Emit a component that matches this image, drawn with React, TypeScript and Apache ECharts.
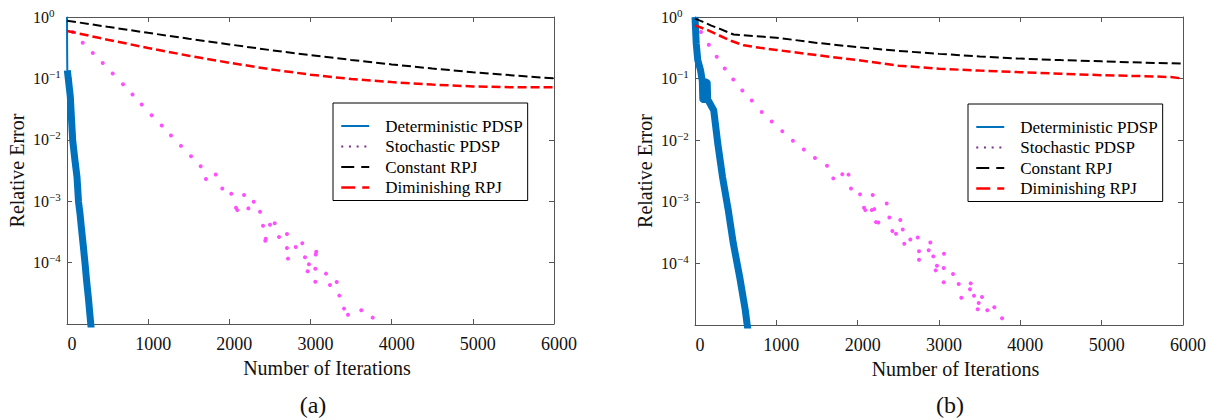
import React, { useEffect, useRef } from 'react';
import * as echarts from 'echarts';

const FONT = 'Liberation Serif';
const AXIS_COLOR = '#555555';
const TEXT_COLOR = '#111111';
const BLUE = '#0072bd';
const MAGENTA = '#ff4dff';
const PURPLE = '#7e2f8e';
const BLACK = '#000000';
const RED = '#ff0000';

// tick labels
const xTickInterval = 1000;
const xMax = 6000;
const yTickExponents = [0, -1, -2, -3, -4];
const yMin = 1e-5;
const yMax = 1;

const seriesNames = ['Deterministic PDSP', 'Stochastic PDSP', 'Constant RPJ', 'Diminishing RPJ'];
const panelLabels = ['(a)', '(b)'];

// ---------- panel (a) ----------
// first iterations (steep initial drop, drawn thin along the axis)
const detAHead: [number, number][] = [[0, 1], [1, 0.5], [2, 0.25], [4, 0.135]];
const detA: [number, number][] = [
  [4, 0.135], [20, 0.089], [41, 0.0499], [55, 0.0224], [70, 0.00984],
  [95, 0.005], [123, 0.00249], [142, 0.000977], [160, 0.00063], [176, 0.000384],
  [200, 0.00019], [222, 0.0000975], [242, 0.00005], [262, 0.0000279], [292, 0.0000103],
  [315, 0.000005],
];

const stoA: [number, number][] = [
  [70, 0.568], [193, 0.382], [317, 0.259], [440, 0.178], [563, 0.12], [690, 0.0802],
  [807, 0.0546], [920, 0.0375], [1043, 0.0251], [1167, 0.0171], [1281, 0.01175],
  [1404, 0.00796], [1528, 0.00541], [1647, 0.00372], [1712, 0.00229], [1832, 0.00273],
  [1913, 0.00161], [2024, 0.00132], [2082, 0.000782], [2098, 0.000716], [2181, 0.00126],
  [2234, 0.000764], [2300, 0.000977], [2378, 0.000673], [2415, 0.000398], [2443, 0.000227],
  [2448, 0.000245], [2501, 0.000413], [2559, 0.000436], [2612, 0.000261], [2710, 0.000292],
  [2710, 0.000173], [2723, 0.000116], [2818, 0.000179], [2899, 0.000206], [2932, 0.000122],
  [2965, 0.0000723], [2981, 0.0000938], [3059, 0.0000796], [3059, 0.0000489], [3064, 0.000136],
  [3071, 0.00015], [3191, 0.0000661], [3240, 0.0000433], [3323, 0.0000484], [3355, 0.000029],
  [3413, 0.0000178], [3462, 0.0000142], [3626, 0.0000167], [3766, 0.0000127],
];

const conA: [number, number][] = [
  [0, 0.871], [500, 0.692], [1000, 0.552], [1500, 0.443], [2000, 0.357], [2500, 0.29],
  [3000, 0.239], [3500, 0.2], [4000, 0.169], [4500, 0.145], [5000, 0.126], [5500, 0.112],
  [6000, 0.1],
];

const dimA: [number, number][] = [
  [0, 0.593], [500, 0.427], [1000, 0.313], [1500, 0.234], [2000, 0.18], [2500, 0.141],
  [3000, 0.115], [3500, 0.0977], [4000, 0.0871], [4500, 0.0794], [5000, 0.0741],
  [5500, 0.0716], [6000, 0.0716],
];

// ---------- panel (b) ----------
const detBHead: [number, number][] = [];
const detB: [number, number][] = [
  [0, 1], [15, 0.372], [34, 0.2], [68, 0.137], [90, 0.0912],
  [96, 0.0468], [102, 0.0891], [108, 0.0457], [114, 0.0871], [120, 0.0468], [126, 0.0891],
  [132, 0.0457], [138, 0.0871], [144, 0.0468], [150, 0.0851], [156, 0.0457],
  [165, 0.0437], [230, 0.0307], [280, 0.00885],
  [338, 0.00254], [409, 0.000733], [471, 0.000211], [550, 0.0000596], [618, 0.0000175],
  [639, 0.0000107], [665, 0.000006],
];

const stoB: [number, number][] = [
  [74, 0.571], [170, 0.353], [267, 0.226], [366, 0.146], [470, 0.0966], [582, 0.0643],
  [698, 0.044], [820, 0.0288], [943, 0.0201], [1073, 0.014], [1204, 0.00982], [1338, 0.00708],
  [1475, 0.00516], [1623, 0.00384], [1700, 0.0024], [1811, 0.00279], [1887, 0.00276],
  [1918, 0.00164], [2029, 0.00132], [2078, 0.000798], [2094, 0.000733], [2173, 0.000733],
  [2185, 0.00129], [2204, 0.00076], [2225, 0.000468], [2254, 0.000462], [2357, 0.000942],
  [2389, 0.000558], [2426, 0.000335], [2471, 0.000303], [2524, 0.000505], [2554, 0.000356],
  [2573, 0.000208], [2647, 0.000245], [2738, 0.000264], [2754, 0.000158], [2754, 0.000115],
  [2873, 0.000164], [2893, 0.000219], [2930, 0.00013], [2959, 0.0000771], [2975, 0.0000916],
  [3058, 0.0000839], [3058, 0.0000493], [3061, 0.000143], [3172, 0.0000671], [3242, 0.0000462],
  [3274, 0.0000277], [3381, 0.0000379], [3390, 0.0000474], [3430, 0.0000299], [3476, 0.000018],
  [3488, 0.0000228], [3529, 0.0000284], [3594, 0.0000173], [3680, 0.0000194], [3775, 0.0000129],
];

const conB: [number, number][] = [
  [0, 0.94], [100, 0.832], [200, 0.724], [300, 0.646], [400, 0.569], [475, 0.519],
  [1000, 0.462], [1500, 0.38], [2000, 0.324], [2500, 0.282], [3000, 0.252], [3500, 0.229],
  [4000, 0.211], [4500, 0.1995], [5000, 0.1905], [5500, 0.182], [6000, 0.175],
];

const dimB: [number, number][] = [
  [0, 0.733], [150, 0.617], [300, 0.501], [450, 0.407], [600, 0.347], [800, 0.316],
  [1000, 0.292], [1500, 0.24], [2000, 0.1995], [2500, 0.162], [3000, 0.1445], [3500, 0.135],
  [4000, 0.127], [4500, 0.12], [5000, 0.1135], [5500, 0.1096], [5850, 0.106], [6000, 0.1],
];

const panels = [
  { head: detAHead, det: detA, sto: stoA, con: conA, dim: dimA },
  { head: detBHead, det: detB, sto: stoB, con: conB, dim: dimB },
];

const grids = [
  { left: 67, top: 17, width: 487, height: 307 },
  { left: 695, top: 17, width: 488, height: 308 },
];
const legendPos = [
  { left: 333, top: 103 },
  { left: 968, top: 104 },
];
const labelPos = [
  { x: 313, y: 405 },
  { x: 950, y: 405 },
];

function yLabel(v: number): string {
  const e = Math.round(Math.log10(v));
  if (yTickExponents.indexOf(e) < 0) return '';
  const exp = e === 0 ? '0' : '\u2212' + String(-e);
  return `{b|10}{e|${exp}}`;
}

function buildOption(): any {
  const axisLine = { show: true, onZero: false, lineStyle: { color: AXIS_COLOR, width: 1 } };
  const axisTick = { show: true, inside: true, length: 5, lineStyle: { color: AXIS_COLOR, width: 1 } };

  const xAxis: any[] = [];
  const yAxis: any[] = [];
  grids.forEach((_, gi) => {
    xAxis.push({
      gridIndex: gi, type: 'value', min: 0, max: xMax, interval: xTickInterval, position: 'bottom',
      name: 'Number of Iterations', nameLocation: 'middle', nameGap: 34, nameMoveOverlap: false,
      nameTextStyle: { fontFamily: FONT, fontSize: 20, color: TEXT_COLOR, padding: [0, 0, 0, 33] },
      axisLine, axisTick,
      axisLabel: {
        fontFamily: FONT, fontSize: 18, color: TEXT_COLOR, margin: 11, padding: [0, 0, 0, 10],
        formatter: (v: number) => String(v),
      },
      splitLine: { show: false },
    });
    xAxis.push({
      gridIndex: gi, type: 'value', min: 0, max: xMax, interval: xTickInterval, position: 'top',
      axisLine, axisTick, axisLabel: { show: false }, splitLine: { show: false },
    });
    yAxis.push({
      gridIndex: gi, type: 'log', logBase: 10, min: yMin, max: yMax, splitNumber: 5, position: 'left',
      name: 'Relative Error', nameLocation: 'middle', nameGap: 40, nameMoveOverlap: false,
      nameTextStyle: { fontFamily: FONT, fontSize: 20, color: TEXT_COLOR },
      axisLine, axisTick,
      axisLabel: {
        formatter: yLabel, align: 'left', margin: 34, fontFamily: FONT,
        rich: {
          b: { fontFamily: FONT, fontSize: 16, color: TEXT_COLOR, lineHeight: 20 },
          e: { fontFamily: FONT, fontSize: 11, color: TEXT_COLOR, lineHeight: 10, verticalAlign: 'top' },
        },
      },
      splitLine: { show: false }, minorTick: { show: false },
    });
    yAxis.push({
      gridIndex: gi, type: 'log', logBase: 10, min: yMin, max: yMax, splitNumber: 5, position: 'right',
      axisLine, axisTick, axisLabel: { show: false }, splitLine: { show: false },
    });
  });

  const series: any[] = [];
  panels.forEach((p, gi) => {
    const xi = gi * 2;
    const yi = gi * 2;
    series.push({
      name: seriesNames[0], type: 'line', xAxisIndex: xi, yAxisIndex: yi, data: p.det,
      symbol: 'none', showSymbol: false, lineStyle: { color: BLUE, width: 7, join: 'round' },
      itemStyle: { color: BLUE }, z: 2, silent: true,
    });
    if (p.head.length) {
      series.push({
        name: seriesNames[0], type: 'line', xAxisIndex: xi, yAxisIndex: yi, data: p.head,
        symbol: 'none', showSymbol: false, lineStyle: { color: BLUE, width: 2 },
        itemStyle: { color: BLUE }, z: 2, silent: true,
      });
    }
    series.push({
      name: seriesNames[1], type: 'line', xAxisIndex: xi, yAxisIndex: yi, data: p.sto,
      symbol: 'circle', symbolSize: 4, showSymbol: true, showAllSymbol: true,
      lineStyle: { width: 0, opacity: 0, color: PURPLE }, itemStyle: { color: MAGENTA },
      z: 3, silent: true,
    });
    series.push({
      name: seriesNames[2], type: 'line', xAxisIndex: xi, yAxisIndex: yi, data: p.con,
      symbol: 'none', showSymbol: false, lineStyle: { color: BLACK, width: 2, type: [9, 4] },
      itemStyle: { color: BLACK }, z: 4, silent: true,
    });
    series.push({
      name: seriesNames[3], type: 'line', xAxisIndex: xi, yAxisIndex: yi, data: p.dim,
      symbol: 'none', showSymbol: false, lineStyle: { color: RED, width: 2.5, type: [9, 4] },
      itemStyle: { color: RED }, z: 5, silent: true,
    });
  });

  const legendData = [
    { name: seriesNames[0], lineStyle: { color: BLUE, width: 2, type: 'solid', opacity: 1 } },
    { name: seriesNames[1], lineStyle: { color: PURPLE, width: 2, type: [2, 5.7], opacity: 1, cap: 'butt' } },
    { name: seriesNames[2], lineStyle: { color: BLACK, width: 2, type: [13, 7], opacity: 1 } },
    { name: seriesNames[3], lineStyle: { color: RED, width: 2.5, type: [14, 7], opacity: 1 } },
  ];

  const legend = legendPos.map((pos) => ({
    ...pos,
    orient: 'vertical', itemWidth: 28, itemHeight: 12, itemGap: 0.5, selectedMode: false,
    borderColor: '#000', borderWidth: 1, padding: [13, 5, 3, 7], backgroundColor: '#fff',
    textStyle: { fontFamily: FONT, fontSize: 17, color: '#000', lineHeight: 20, padding: [0, 0, 0, 11] },
    itemStyle: { opacity: 0 },
    data: legendData,
  }));

  const graphic = labelPos.map((pos, i) => ({
    type: 'text', x: pos.x, y: pos.y, silent: true,
    style: {
      text: panelLabels[i], fontFamily: FONT, fontSize: 24, fill: TEXT_COLOR,
      align: 'center', verticalAlign: 'middle',
    },
  }));

  return {
    animation: false,
    backgroundColor: '#ffffff',
    textStyle: { fontFamily: FONT },
    grid: grids.map((g) => ({ ...g, containLabel: false, outerBoundsMode: 'none' })),
    xAxis, yAxis, series, legend, graphic,
    tooltip: { show: false },
  };
}

export default function App() {
  const ref = useRef<HTMLDivElement | null>(null);
  useEffect(() => {
    if (!ref.current) return;
    const chart = echarts.init(ref.current, null, { renderer: 'svg' });
    chart.setOption(buildOption());
    return () => chart.dispose();
  }, []);
  return (
    <div
      ref={ref}
      style={{ position: 'absolute', left: 0, top: 0, width: 1221, height: 420, background: '#fff' }}
    />
  );
}
